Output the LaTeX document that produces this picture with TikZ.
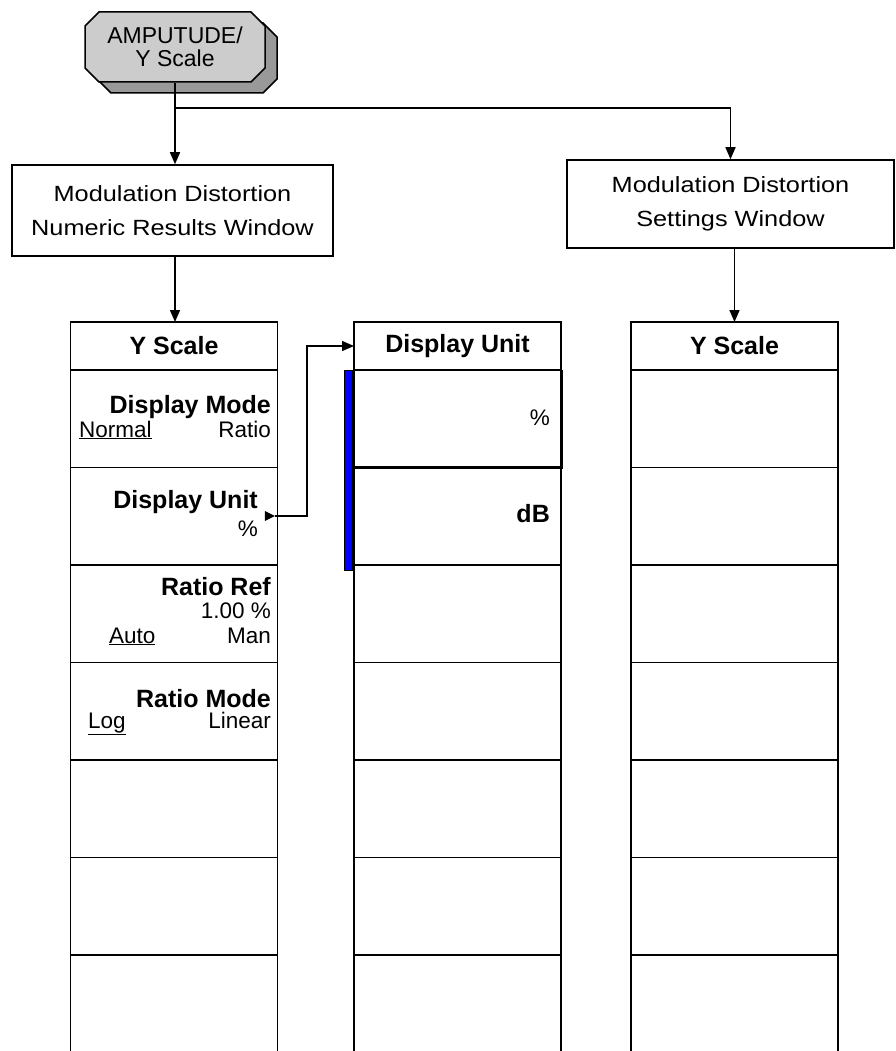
\documentclass[tikz,border=0pt]{standalone}
\usepackage{fontspec}
\setmainfont{Liberation Sans}
\newfontfamily\winfont{Liberation Sans}[FakeStretch=1.15]
\usetikzlibrary{arrows.meta,shapes.misc,shapes.geometric,shadows}

\tikzset{
  >={Triangle[width=10pt,length=12pt]},
  conn/.style={->, line width=1.5pt},
  keybox/.style={chamfered rectangle, chamfered rectangle xsep=7pt, chamfered rectangle ysep=7pt,
    draw, line width=1.5pt, fill=gray!40, minimum width=180pt, minimum height=70pt, inner sep=0,
    align=center, font=\fontsize{23}{23}\selectfont,
    drop shadow={shadow xshift=12pt, shadow yshift=-11pt, fill=gray!80, draw=black, line width=1.5pt, opacity=1}},
  winbox/.style={draw, line width=1.5pt, align=center, inner sep=0, font=\winfont\fontsize{22}{34}\selectfont},
  cell/.style={draw, line width=1.5pt, minimum width=207pt, minimum height=97.5pt, inner sep=0, outer sep=0},
  headcell/.style={cell, minimum height=48pt, font=\fontsize{25}{27}\selectfont\bfseries},
  lab/.style={inner sep=0, font=\fontsize{22.5}{24}\selectfont},
  blab/.style={inner sep=0, font=\fontsize{25}{27}\selectfont\bfseries},
  more/.style={isosceles triangle, fill, inner sep=0, minimum height=10pt, minimum width=10pt, isosceles triangle stretches},
}

\begin{document}
\begin{tikzpicture}[x=1pt, y=-1pt]
  \useasboundingbox (0,0) rectangle (895,1051);

  % key and windows
  \node[keybox] (key) at (175,47) {AMPUTUDE/\\Y Scale};
  \node[winbox, minimum width=321pt, minimum height=91pt] (numwin) at (172.5,210.5) {Modulation Distortion\\Numeric Results Window};
  \node[winbox, minimum width=327pt, minimum height=88pt] (setwin) at (730.5,204) {Modulation Distortion\\Settings Window};
  \coordinate (split) at (175,108);

  % softkey columns
  \foreach \col/\cx/\title in {L/174/Y Scale, M/457.5/Display Unit, R/734.5/Y Scale} {
    \node[headcell] (\col-h) at (\cx,346) {\title};
    \foreach \i in {1,...,6}
      \node[cell] (\col-\i) at (\cx,321.25+97.5*\i) {};
    \draw[line width=1.5pt] (\col-6.south west) -- ++(0,110);
    \draw[line width=1.5pt] (\col-6.south east) -- ++(0,110);
  }
  \draw[line width=3pt] (M-1.north east) -- (M-1.south east) -- (M-1.south west);
  \node[draw, fill=blue, line width=1pt, minimum width=8pt, minimum height=200pt, inner sep=0] (sel) at (348.5,470) {};

  % left column labels
  \node[blab, anchor=base east] (dmode) at (271,413) {Display Mode};
  \node[lab, anchor=base west] (dnorm) at (79,437) {\underline{Normal}};
  \node[lab, anchor=base east] (dratio) at (271,437) {Ratio};
  \node[blab, anchor=base east] (dunit) at (258,508) {Display Unit};
  \node[lab, anchor=base east] (dpct) at (258,536) {\%};
  \node[more] (more) at (268,516) {};
  \node[blab, anchor=base east] (rref) at (271,595) {Ratio Ref};
  \node[lab, anchor=base east] (rval) at (271,618) {1.00 \%};
  \node[lab, anchor=base west] (rauto) at (109,643) {\underline{Auto}};
  \node[lab, anchor=base east] (rman) at (271,643) {Man};
  \node[blab, anchor=base east] (rmode) at (271,707) {Ratio Mode};
  \node[lab, anchor=base west] (rlog) at (88,728) {\underline{Log}};
  \node[lab, anchor=base east] (rlin) at (271,728) {Linear};

  % middle column labels
  \node[lab, anchor=base east] (upct) at (550,425) {\%};
  \node[blab, anchor=base east] (udb) at (550,522) {dB};

  % connectors
  \draw[conn] (key.south) -- (key.south |- numwin.north);
  \draw[conn] (split) -| (setwin.north);
  \draw[conn] (numwin.south -| key.south) -- (L-h.north -| key.south);
  \draw[conn] (setwin.south -| R-h.north) -- (R-h.north);
  \draw[conn] (more.east) -- (307,516) |- (M-h.west);
\end{tikzpicture}
\end{document}
